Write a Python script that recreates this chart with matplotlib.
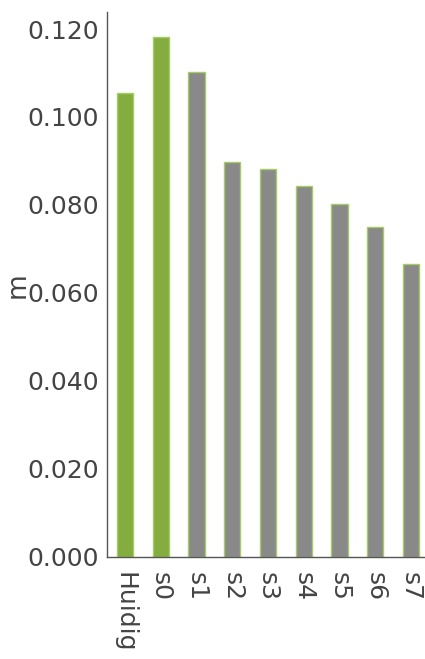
import matplotlib
matplotlib.use('Agg')
import matplotlib.pyplot as plt
import numpy as np

categories = ['Huidig', 's0', 's1', 's2', 's3', 's4', 's5', 's6', 's7']
values = [0.1055, 0.1182, 0.1102, 0.0898, 0.0882, 0.0843, 0.0803, 0.0749, 0.0666]
highlight = [True, True, False, False, False, False, False, False, False]

green = '#84ac3e'
grey = '#898989'
text_col = '#444444'

plt.rcParams['font.family'] = ['Verdana', 'DejaVu Sans']

fig = plt.figure(figsize=(4.25, 6.59), dpi=100)
ax = fig.add_axes([0.252, 0.155, 0.757, 0.827])

x = np.arange(len(categories))
colors = [green if h else grey for h in highlight]
ax.bar(x, values, width=0.45, color=colors, edgecolor='#a6cc66', linewidth=1)

ax.set_xlim(-0.5, len(categories) - 0.5)
ax.set_ylim(0, 0.1239)
yt = np.arange(0, 0.121, 0.02)
ax.set_yticks(yt)
ax.set_yticklabels([f'{v:.3f}' for v in yt])
ax.set_xticks(x)
ax.set_xticklabels(categories, rotation=-90, va='top', ha='center')
ax.tick_params(axis='both', length=0, labelsize=18, colors=text_col, pad=6)
ax.tick_params(axis='x', pad=11)

for side in ['top', 'right']:
    ax.spines[side].set_visible(False)
for side in ['left', 'bottom']:
    ax.spines[side].set_color('#555555')
    ax.spines[side].set_linewidth(1)

fig.text(18 / 425, 1 - 285 / 659, 'm', rotation=90, ha='center', va='center',
         fontsize=19, color=text_col)

fig.savefig('out.png', dpi=100)
